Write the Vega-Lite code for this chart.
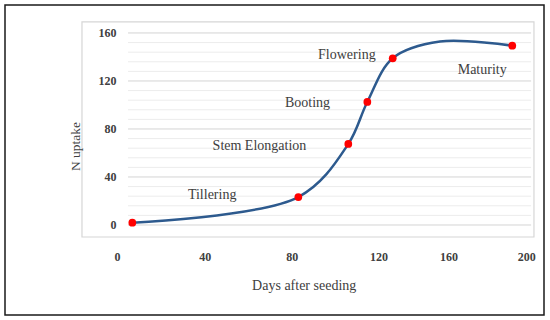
{
  "$schema": "https://vega.github.io/schema/vega-lite/v6.json",
  "width": 539,
  "height": 310,
  "padding": 5,
  "background": "white",
  "config": {
    "view": {"stroke": "#1a1a1a", "strokeWidth": 1.5},
    "font": "Liberation Serif"
  },
  "datasets": {
    "stages": [
      {"days": 4.6, "n": 1.9},
      {"days": 85.7, "n": 23.3},
      {"days": 110.1, "n": 67.5},
      {"days": 119.4, "n": 102.5},
      {"days": 131.8, "n": 138.9},
      {"days": 190.2, "n": 149.4}
    ],
    "curve": [
      {"days": 4.6, "n": 1.9},
      {"days": 85.7, "n": 23.3},
      {"days": 110.1, "n": 67.5},
      {"days": 119.4, "n": 102.5},
      {"days": 131.8, "n": 138.9},
      {"days": 154.9, "n": 152.8},
      {"days": 190.2, "n": 149.4}
    ],
    "labels": [
      {"days": 43.6, "n": 25, "label": "Tillering"},
      {"days": 66.7, "n": 65.8, "label": "Stem Elongation"},
      {"days": 90.2, "n": 101.7, "label": "Booting"},
      {"days": 109.4, "n": 141.7, "label": "Flowering"},
      {"days": 175.5, "n": 129.2, "label": "Maturity"}
    ],
    "grid": [
      {"n": 8}, {"n": 16}, {"n": 24}, {"n": 32}, {"n": 48}, {"n": 56}, {"n": 64}, {"n": 72},
      {"n": 88}, {"n": 96}, {"n": 104}, {"n": 112}, {"n": 128}, {"n": 136}, {"n": 144}, {"n": 152},
      {"n": 0}, {"n": 40}, {"n": 80}, {"n": 120}, {"n": 160}
    ]
  },
  "layer": [
    {
      "data": {"values": [{}]},
      "mark": {"type": "rect", "fill": "transparent", "stroke": "#d6d6d6", "strokeWidth": 1.2},
      "encoding": {
        "x": {
          "datum": -20,
          "type": "quantitative",
          "scale": {"domain": [-57.6, 205.7], "nice": false, "zero": false},
          "axis": {
            "values": [0, 40, 80, 120, 160, 200],
            "offset": -58.3,
            "zindex": 1,
            "domain": false,
            "ticks": false,
            "tickSize": 0,
            "grid": false,
            "labelPadding": 0,
            "labelBaseline": "middle",
            "labelFlush": false,
            "labelOverlap": false,
            "labelOffset": {
              "condition": [
                {"test": "datum.value === 0", "value": -6},
                {"test": "datum.value === 80", "value": 5},
                {"test": "datum.value === 120", "value": 10},
                {"test": "datum.value === 160", "value": -2},
                {"test": "datum.value === 200", "value": -6}
              ],
              "value": 0
            },
            "labelFont": "Liberation Serif",
            "labelFontSize": 12,
            "labelFontWeight": "bold",
            "labelColor": "#404040",
            "title": "Days after seeding",
            "titleFont": "Liberation Serif",
            "titleFontSize": 14,
            "titleFontWeight": "normal",
            "titleColor": "#404040",
            "titleX": 298.7,
            "titleY": 29,
            "titleAlign": "center",
            "titleBaseline": "middle"
          }
        },
        "x2": {"datum": 200.8},
        "y": {
          "datum": 169.2,
          "type": "quantitative",
          "scale": {"domain": [-75, 183.3], "nice": false, "zero": false},
          "axis": {
            "values": [0, 40, 80, 120, 160],
            "offset": -112,
            "zindex": 1,
            "domain": false,
            "ticks": false,
            "tickSize": 0,
            "grid": false,
            "labelPadding": 1,
            "labelFlush": false,
            "labelOverlap": false,
            "labelFont": "Liberation Serif",
            "labelFontSize": 12,
            "labelFontWeight": "bold",
            "labelColor": "#404040",
            "title": "N uptake",
            "titleFont": "Liberation Serif",
            "titleFontSize": 13.5,
            "titleFontWeight": "normal",
            "titleColor": "#404040",
            "titleAngle": 270,
            "titleX": -42,
            "titleY": 141,
            "titleAlign": "center",
            "titleBaseline": "middle"
          }
        },
        "y2": {"datum": -10}
      }
    },
    {
      "data": {"name": "grid"},
      "mark": {"type": "rule", "strokeWidth": 1},
      "encoding": {
        "y": {"field": "n", "type": "quantitative"},
        "x": {"datum": 2.5, "type": "quantitative"},
        "x2": {"datum": 199.4},
        "stroke": {"condition": {"test": "datum.n % 40 === 0", "value": "#d4d4d4"}, "value": "#ececec"}
      }
    },
    {
      "data": {"name": "curve"},
      "mark": {"type": "line", "interpolate": "catmull-rom", "stroke": "#2d5a8e", "strokeWidth": 2.5},
      "encoding": {
        "x": {"field": "days", "type": "quantitative"},
        "y": {"field": "n", "type": "quantitative"}
      }
    },
    {
      "data": {"name": "stages"},
      "mark": {"type": "circle", "size": 60, "color": "#ff0000", "opacity": 1},
      "encoding": {
        "x": {"field": "days", "type": "quantitative"},
        "y": {"field": "n", "type": "quantitative"}
      }
    },
    {
      "data": {"name": "labels"},
      "mark": {"type": "text", "font": "Liberation Serif", "fontSize": 14, "color": "#404040", "align": "center", "baseline": "middle"},
      "encoding": {
        "x": {"field": "days", "type": "quantitative"},
        "y": {"field": "n", "type": "quantitative"},
        "text": {"field": "label"}
      }
    }
  ]
}
